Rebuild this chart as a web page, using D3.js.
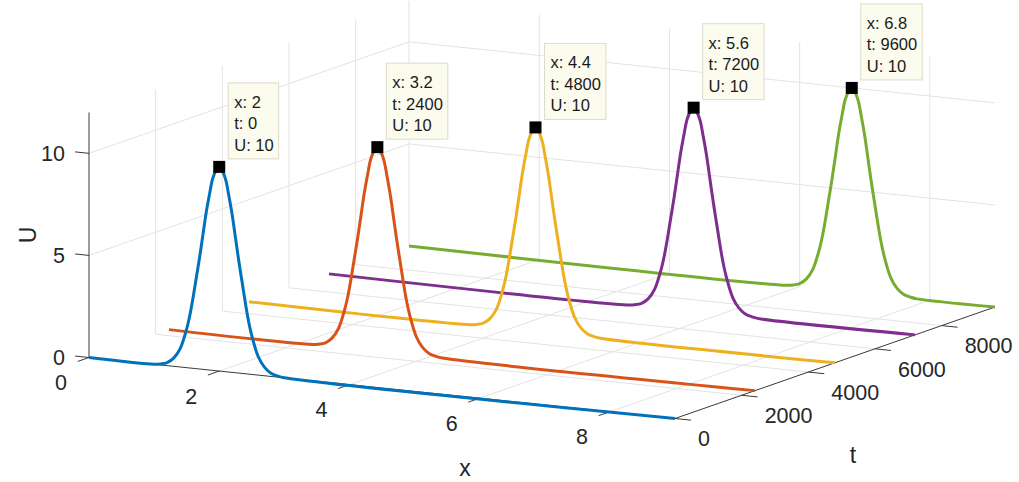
<!DOCTYPE html>
<html>
<head>
<meta charset="utf-8">
<script src="https://cdn.jsdelivr.net/npm/d3@7"></script>
<style>
  body { margin: 0; background: #fff; }
  text { font-family: "Liberation Sans", Arial, Helvetica, sans-serif; fill: #262626; }
</style>
</head>
<body>
<div id="chart"></div>
<script>
// axis ranges and ticks
var xDomain = [0, 9],
    tDomain = [0, 9600],
    uDomain = [0, 12];
var xTicks = [0, 2, 4, 6, 8],
    tTicks = [0, 2000, 4000, 6000, 8000],
    uTicks = [0, 5, 10];

// one pulse per time slice
var peakX = [2, 3.2, 4.4, 5.6, 6.8],
    peakT = [0, 2400, 4800, 7200, 9600],
    peakU = [10, 10, 10, 10, 10];
var colors = ["#0072BD", "#D95319", "#EDB120", "#7E2F8E", "#77AC30"];

// pulse shape (offset from peak, U)
var profileDx = [-1.0, -0.9, -0.8, -0.7, -0.6, -0.5, -0.45, -0.4, -0.35, -0.3, -0.25, -0.2, -0.15, -0.1, -0.05, 0,
                 0.05, 0.1, 0.15, 0.2, 0.25, 0.3, 0.35, 0.4, 0.45, 0.5, 0.6, 0.7, 0.8, 0.9, 1.0];
var profileU = [0, 0.05, 0.15, 0.4, 0.9, 1.9, 2.6, 3.5, 4.5, 5.5, 6.6, 7.7, 8.6, 9.4, 9.8, 10,
                9.8, 9.4, 8.6, 7.7, 6.6, 5.5, 4.5, 3.5, 2.6, 1.9, 0.9, 0.4, 0.15, 0.05, 0];

var w = 1019, h = 482;

// screen position of the origin and the three projected axis vectors
var origin = [89, 357.5],
    xVec = [586, 61],
    tVec = [320, -111.5],
    uVec = [0, -245];

var xs = d3.scaleLinear().domain(xDomain).range([0, 1]),
    ts = d3.scaleLinear().domain(tDomain).range([0, 1]),
    us = d3.scaleLinear().domain(uDomain).range([0, 1]);

function proj(x, t, u) {
    var a = xs(x), b = ts(t), c = us(u);
    return [origin[0] + a * xVec[0] + b * tVec[0] + c * uVec[0],
            origin[1] + a * xVec[1] + b * tVec[1] + c * uVec[1]];
}

var svg = d3.select("#chart").append("svg")
    .attr("width", w)
    .attr("height", h);

var line = d3.line()
    .x(function (d) { return d[0]; })
    .y(function (d) { return d[1]; });

function seg(p, q) {
    return line([p, q]);
}

var grid = svg.append("g")
    .attr("stroke", "#e3e3e3")
    .attr("stroke-width", 1)
    .attr("fill", "none");

// floor grid
xTicks.filter(function (d) { return d > 0; }).forEach(function (x) {
    grid.append("path").attr("d", seg(proj(x, 0, 0), proj(x, tDomain[1], 0)));
});
tTicks.filter(function (d) { return d > 0; }).forEach(function (t) {
    grid.append("path").attr("d", seg(proj(0, t, 0), proj(xDomain[1], t, 0)));
});
// x = 0 wall
tTicks.filter(function (d) { return d > 0; }).forEach(function (t) {
    grid.append("path").attr("d", seg(proj(0, t, 0), proj(0, t, uDomain[1])));
});
uTicks.filter(function (d) { return d > 0; }).forEach(function (u) {
    grid.append("path").attr("d", seg(proj(0, 0, u), proj(0, tDomain[1], u)));
});
// back wall
xTicks.filter(function (d) { return d > 0; }).forEach(function (x) {
    grid.append("path").attr("d", seg(proj(x, tDomain[1], 0), proj(x, tDomain[1], uDomain[1])));
});
uTicks.filter(function (d) { return d > 0; }).forEach(function (u) {
    grid.append("path").attr("d", seg(proj(0, tDomain[1], u), proj(xDomain[1], tDomain[1], u)));
});
grid.append("path").attr("d", seg(proj(0, tDomain[1], 0), proj(0, tDomain[1], uDomain[1])));

// axes
var axes = svg.append("g")
    .attr("stroke", "#3a3a3a")
    .attr("stroke-width", 1)
    .attr("fill", "none");

axes.append("path").attr("d", seg(proj(0, 0, 0), proj(xDomain[1], 0, 0)));
axes.append("path").attr("d", seg(proj(xDomain[1], 0, 0), proj(xDomain[1], tDomain[1], 0)));
axes.append("path").attr("d", seg(proj(0, 0, 0), proj(0, 0, uDomain[1])));

// tick marks
var uTickDir = [-0.995, -0.104], xTickDir = [-0.944, 0.329], tTickDir = [0.995, 0.104];
uTicks.forEach(function (u) {
    var p = proj(0, 0, u);
    axes.append("path").attr("d", seg(p, [p[0] + 14 * uTickDir[0], p[1] + 14 * uTickDir[1]]));
});
xTicks.forEach(function (x) {
    var p = proj(x, 0, 0);
    axes.append("path").attr("d", seg(p, [p[0] + 12 * xTickDir[0], p[1] + 12 * xTickDir[1]]));
});
tTicks.forEach(function (t) {
    var p = proj(xDomain[1], t, 0);
    axes.append("path").attr("d", seg(p, [p[0] + 16 * tTickDir[0], p[1] + 16 * tTickDir[1]]));
});

// tick labels
var labels = svg.append("g").style("font-size", "21.5px");
uTicks.forEach(function (u) {
    var p = proj(0, 0, u);
    labels.append("text")
        .attr("x", p[0] - 24)
        .attr("y", p[1])
        .attr("dy", "0.36em")
        .attr("text-anchor", "end")
        .text(u);
});
xTicks.forEach(function (x) {
    var p = proj(x, 0, 0);
    labels.append("text")
        .attr("x", p[0] - 28)
        .attr("y", p[1] + 25)
        .attr("dy", "0.36em")
        .attr("text-anchor", "middle")
        .text(x);
});
tTicks.forEach(function (t) {
    var p = proj(xDomain[1], t, 0);
    labels.append("text")
        .attr("x", p[0] + 23)
        .attr("y", p[1] + 20)
        .attr("dy", "0.36em")
        .attr("text-anchor", "start")
        .text(t);
});

// axis titles
var xMid = proj(4.5, 0, 0), tMid = proj(xDomain[1], 4800, 0), uMid = proj(0, 0, 6);
svg.append("text")
    .attr("x", xMid[0] + 83).attr("y", xMid[1] + 80)
    .attr("dy", "0.36em").attr("text-anchor", "middle")
    .style("font-size", "23px").text("x");
svg.append("text")
    .attr("x", tMid[0] + 18).attr("y", tMid[1] + 92)
    .attr("dy", "0.36em").attr("text-anchor", "middle")
    .style("font-size", "23px").text("t");
svg.append("text")
    .attr("transform", "translate(" + (uMid[0] - 61) + "," + uMid[1] + ") rotate(-90)")
    .attr("dy", "0.36em").attr("text-anchor", "middle")
    .style("font-size", "23px").text("U");

// curves, back to front
var curve = d3.line()
    .x(function (d) { return d[0]; })
    .y(function (d) { return d[1]; })
    .curve(d3.curveCatmullRom);

var order = d3.range(peakX.length).reverse();
order.forEach(function (i) {
    var pts = [[xDomain[0], 0]];
    profileDx.forEach(function (dx, k) {
        pts.push([peakX[i] + dx, profileU[k]]);
    });
    pts.push([xDomain[1], 0]);
    var screen = pts.map(function (p) { return proj(p[0], peakT[i], p[1]); });
    svg.append("path")
        .attr("d", curve(screen))
        .attr("fill", "none")
        .attr("stroke", colors[i])
        .attr("stroke-width", 3)
        .attr("stroke-linejoin", "round");
});

// data tips
peakX.forEach(function (x, i) {
    var p = proj(x, peakT[i], peakU[i]);
    svg.append("rect")
        .attr("x", p[0] - 6).attr("y", p[1] - 6)
        .attr("width", 12).attr("height", 12)
        .attr("fill", "#000");

    var tip = svg.append("g");
    var box = tip.append("rect")
        .attr("fill", "#fbfbee")
        .attr("stroke", "#dcdccc")
        .attr("stroke-width", 1);
    var lines = ["x: " + x, "t: " + peakT[i], "U: " + peakU[i]];
    var left = p[0] + 9, bottom = p[1] - 8, top = bottom - 76;
    var maxW = 0;
    lines.forEach(function (s, k) {
        var tx = tip.append("text")
            .attr("x", left + 6)
            .attr("y", top + 25 + k * 21.5)
            .style("font-size", "16.5px")
            .style("fill", "#1a1a1a")
            .text(s);
        maxW = Math.max(maxW, tx.node().getComputedTextLength());
    });
    box.attr("x", left).attr("y", top)
        .attr("width", maxW + 11).attr("height", 76);
});
</script>
</body>
</html>
